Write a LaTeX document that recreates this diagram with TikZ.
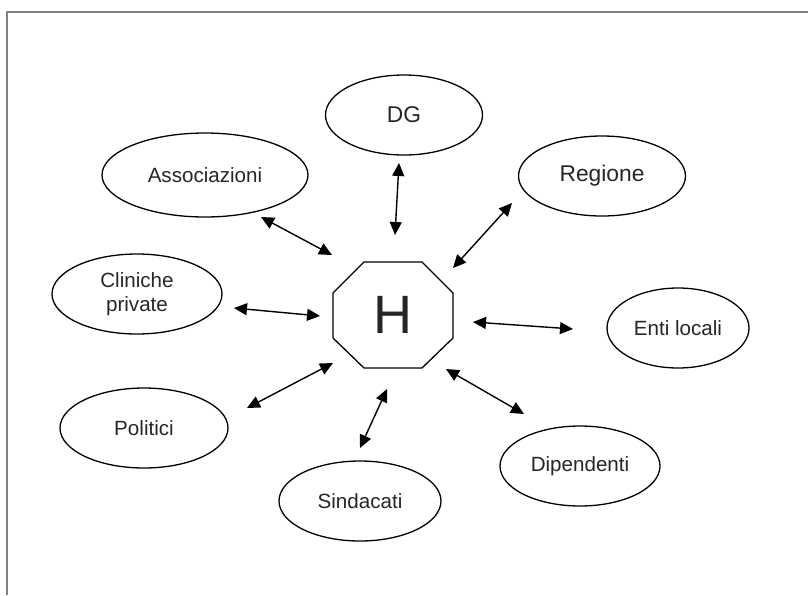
\documentclass[tikz,border=0pt]{standalone}
\usepackage{fontspec}
\setmainfont{Liberation Sans}
\usetikzlibrary{shapes.geometric,arrows.meta}
\begin{document}
\begin{tikzpicture}[x=1pt,y=-1pt,
  actor/.style={draw=black,line width=1.3pt,ellipse,inner sep=0pt,
    text=black!85,font=\fontsize{20.6}{24}\selectfont,align=center},
  link/.style={line width=1.4pt,{Triangle[length=13pt,width=12pt]}-{Triangle[length=13pt,width=12pt]}},
  frameline/.style={draw=black!50,line width=1.2pt}]
\useasboundingbox (0,0) rectangle (808,595);
% frame lines along the top and left
\draw[frameline] (808,12) -- (7,12) -- (7,595);

% central hospital octagon
\draw[line width=1.3pt] (364,262) -- (422,262) -- (453,293) -- (453,338)
  -- (422,368) -- (364,368) -- (333,338) -- (333,293) -- cycle;
\node[text=black!85,font=\fontsize{54}{60}\selectfont] (H) at (393,315) {H};

% stakeholders
\node[actor,minimum width=157pt,minimum height=80pt,font=\fontsize{22.8}{26}\selectfont] (dg) at (404,115) {DG};
\node[actor,minimum width=206pt,minimum height=84pt] (ass) at (205,175) {Associazioni};
\node[actor,minimum width=167pt,minimum height=80pt,font=\fontsize{22.8}{26}\selectfont] (reg) at (602,176) {Regione};
\node[actor,minimum width=170pt,minimum height=80pt] (cli) at (137,294) {Cliniche\\private};
\node[actor,minimum width=142pt,minimum height=80pt] (enti) at (678,328) {Enti locali};
\node[actor,minimum width=168pt,minimum height=80pt] (pol) at (144,428) {Politici};
\node[actor,minimum width=162pt,minimum height=80pt] (sin) at (360,501) {Sindacati};
\node[actor,minimum width=160pt,minimum height=80pt] (dip) at (580,466) {Dipendenti};

% arrow end points
\coordinate (dgA) at (399,163);  \coordinate (dgB) at (395,235);
\coordinate (regA) at (512,203); \coordinate (regB) at (453,268);
\coordinate (assA) at (261,217); \coordinate (assB) at (332,255);
\coordinate (cliA) at (234,308); \coordinate (cliB) at (320,316);
\coordinate (entA) at (573,329); \coordinate (entB) at (473,322);
\coordinate (polA) at (247,408); \coordinate (polB) at (333,363);
\coordinate (sinA) at (360,448); \coordinate (sinB) at (387,389);
\coordinate (dipA) at (524,414); \coordinate (dipB) at (446,369);

\draw[link] (dgA) -- (dgB);
\draw[link] (regA) -- (regB);
\draw[link] (assA) -- (assB);
\draw[link] (cliA) -- (cliB);
\draw[link] (entA) -- (entB);
\draw[link] (polA) -- (polB);
\draw[link] (sinA) -- (sinB);
\draw[link] (dipA) -- (dipB);
\end{tikzpicture}
\end{document}
